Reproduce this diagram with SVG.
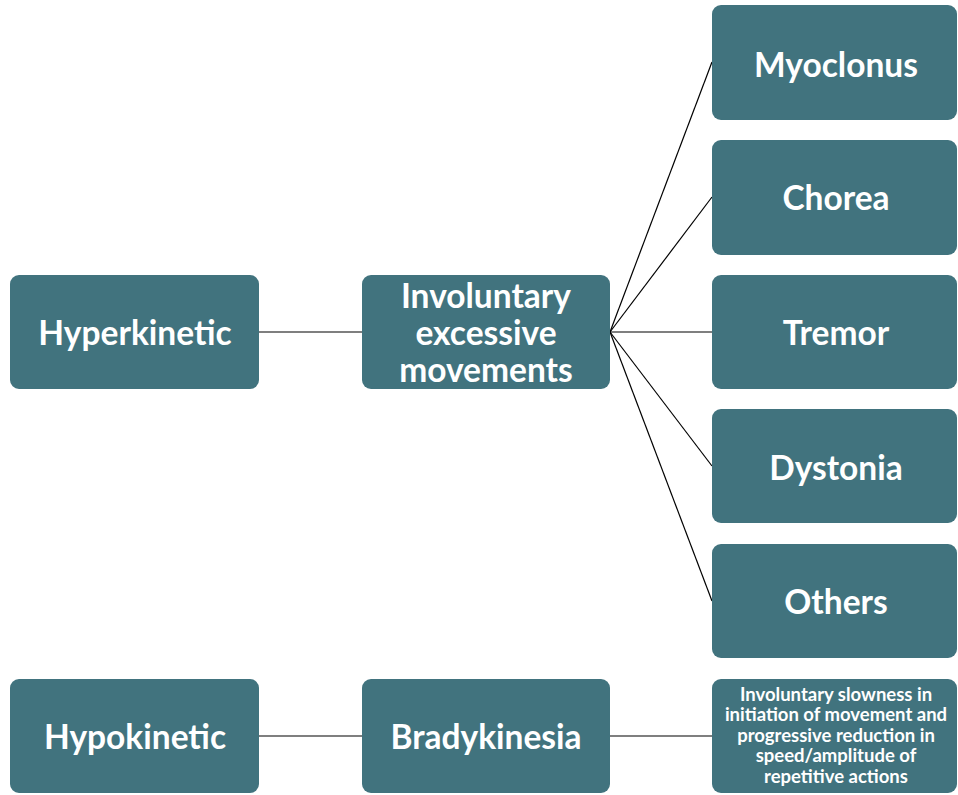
<svg xmlns="http://www.w3.org/2000/svg" width="958" height="795" viewBox="0 0 958 795">
<style>
.box{fill:#41737E;}
.t{font-family:Lato,"Open Sans","Liberation Sans",sans-serif;font-weight:bold;fill:#FFFFFF;text-anchor:middle;font-size:33.5px;}
.s{font-family:Lato,"Open Sans","Liberation Sans",sans-serif;font-weight:bold;fill:#FFFFFF;text-anchor:middle;font-size:18.5px;}
.c{stroke:#000;stroke-width:1.2;fill:none;}
</style>
<rect width="958" height="795" fill="#fff"/>
<g id="connectors">
<line class="c" x1="259" y1="332" x2="362" y2="332"/>
<line class="c" x1="610" y1="332" x2="712" y2="62"/>
<line class="c" x1="610" y1="332" x2="712" y2="197"/>
<line class="c" x1="610" y1="332" x2="712" y2="332"/>
<line class="c" x1="610" y1="332" x2="712" y2="466"/>
<line class="c" x1="610" y1="332" x2="712" y2="601"/>
<line class="c" x1="259" y1="736" x2="362" y2="736"/>
<line class="c" x1="610" y1="736" x2="712" y2="736"/>
</g>
<g id="hyperkinetic"><rect class="box" x="10" y="275" width="249" height="114" rx="9"/><text class="t" x="135" y="345">Hyperkinetic</text></g>
<g id="involuntary"><rect class="box" x="362" y="275" width="248" height="114" rx="9"/><text class="t" x="486" y="308">Involuntary</text><text class="t" x="486" y="345">excessive</text><text class="t" x="486" y="382">movements</text></g>
<g id="myoclonus"><rect class="box" x="712" y="5" width="245" height="115" rx="9"/><text class="t" x="836" y="77">Myoclonus</text></g>
<g id="chorea"><rect class="box" x="712" y="140" width="245" height="115" rx="9"/><text class="t" x="836" y="210">Chorea</text></g>
<g id="tremor"><rect class="box" x="712" y="275" width="245" height="114" rx="9"/><text class="t" x="836" y="345">Tremor</text></g>
<g id="dystonia"><rect class="box" x="712" y="409" width="245" height="114" rx="9"/><text class="t" x="836" y="480">Dystonia</text></g>
<g id="others"><rect class="box" x="712" y="544" width="245" height="114" rx="9"/><text class="t" x="836" y="614">Others</text></g>
<g id="hypokinetic"><rect class="box" x="10" y="679" width="249" height="114" rx="9"/><text class="t" x="135" y="749">Hypokinetic</text></g>
<g id="bradykinesia"><rect class="box" x="362" y="679" width="248" height="114" rx="9"/><text class="t" x="486" y="749">Bradykinesia</text></g>
<g id="description"><rect class="box" x="712" y="679" width="245" height="114" rx="9"/>
<text class="s" x="836" y="701">Involuntary slowness in</text>
<text class="s" x="836" y="721">initiation of movement and</text>
<text class="s" x="836" y="742">progressive reduction in</text>
<text class="s" x="836" y="762">speed/amplitude of</text>
<text class="s" x="836" y="783">repetitive actions</text>
</g>
</svg>
